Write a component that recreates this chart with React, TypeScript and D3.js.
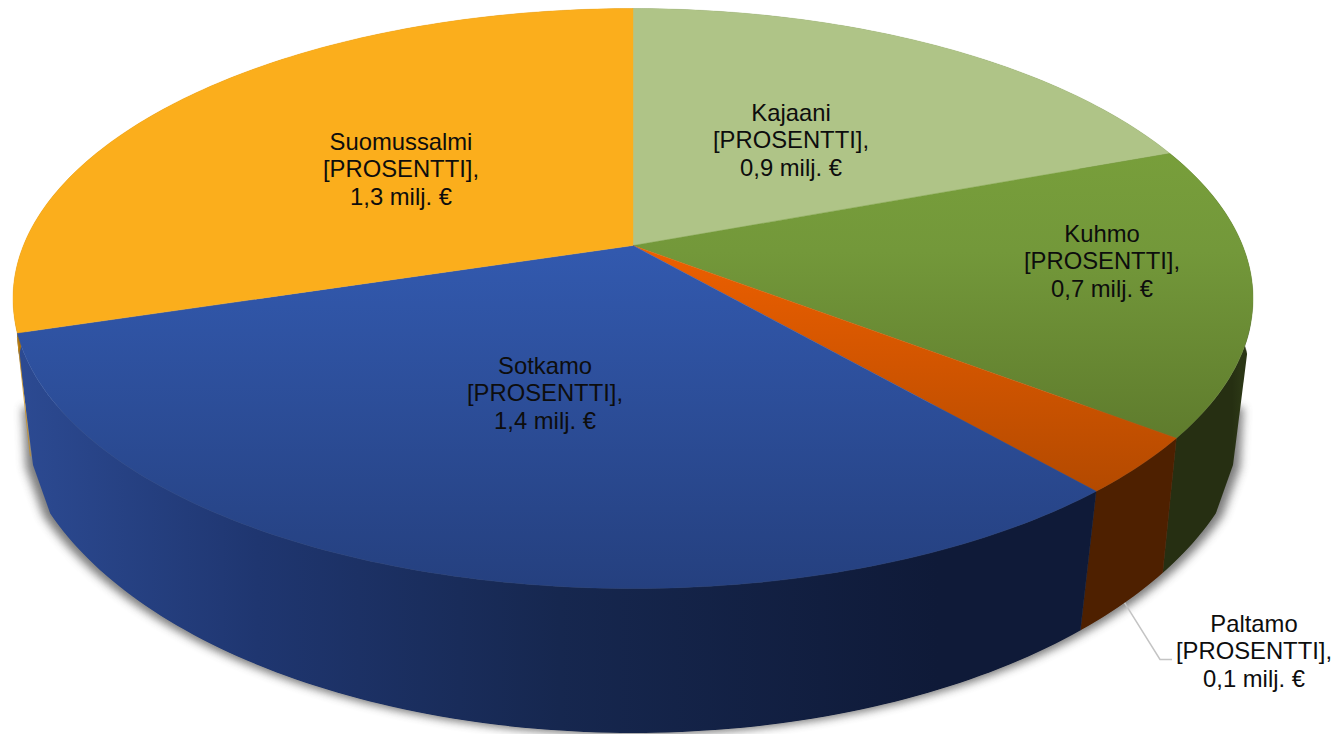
import React from "react";
import * as d3 from "d3";

// ---- data ----
const categories = ["Kajaani", "Kuhmo", "Paltamo", "Sotkamo", "Suomussalmi"];
const values = [0.85, 0.71, 0.14, 1.39, 1.31];
const amountLabels = ["0,9 milj. €", "0,7 milj. €", "0,1 milj. €", "1,4 milj. €", "1,3 milj. €"];
const percentText = "[PROSENTTI],";

// ---- styling ----
const topStops = [
  [["0", "#afc487"], ["1", "#afc487"]],
  [["0", "#7fa83c"], ["0.42", "#73983a"], ["0.74", "#5f7c2d"], ["1", "#4f6a25"]],
  [["0", "#ec5f00"], ["0.42", "#ec5f00"], ["0.83", "#b44a00"], ["1", "#9c3f00"]],
  [["0", "#3259ae"], ["0.42", "#3259ae"], ["1", "#25407f"]],
  [["0", "#fbae1c"], ["0.6", "#fbae1c"], ["1", "#f5a81b"]],
];
const wallStops = [
  [["0", "#5c6f3f"], ["1", "#5c6f3f"]],
  [["0", "#262f12"], ["0.9", "#262f12"], ["1", "#2b3615"]],
  [["0", "#4e2000"], ["1", "#4e2000"]],
  [["0", "#2c4a92"], ["0.22", "#1f3670"], ["0.5", "#16274f"], ["0.85", "#0f1a38"], ["1", "#0f1a38"]],
  [["0", "#a8700f"], ["1", "#a8700f"]],
];

// ---- projection of the two circles (perspective) ----
const topDisc = { cx: 633, cy: 245.5, rx: 609.6, ry: 280.3, k: -0.1827 };
const bottomDisc = { cx: 633, cy: 355.7, rx: 614.5, ry: 327.1, k: -0.133 };
const shoulder = { y: 465, halfWidth: 600 };
const shadowStart = { y: 405, halfWidth: 603 };
type Disc = typeof topDisc;
const project = (d: Disc, t: number): [number, number] => {
  const X = Math.sin(t);
  const Y = -Math.cos(t);
  const w = 1 + d.k * Y;
  return [d.cx + (d.rx * X) / w, d.cy + (d.ry * Y) / w];
};
const arcPoints = (d: Disc, a0: number, a1: number): [number, number][] => {
  const n = Math.max(2, Math.ceil(((a1 - a0) * 180) / Math.PI));
  return d3.range(n + 1).map((i) => project(d, a0 + ((a1 - a0) * i) / n));
};

const labelLayout = [
  { x: 791, y: 121 },
  { x: 1102, y: 242 },
  { x: 1254, y: 632 },
  { x: 545, y: 374 },
  { x: 401, y: 150 },
];
const lineGap = 27.4;

export default function App() {
  const arcs = d3.pie<number>().sort(null).startAngle(0).endAngle(2 * Math.PI)(values);
  const path = d3.line();
  const fullTop = arcPoints(topDisc, 0, 2 * Math.PI);
  const lowerBottom = arcPoints(bottomDisc, 0, 2 * Math.PI).filter((p) => p[1] >= 510);
  const shoulders: [number, number][] = [
    [bottomDisc.cx - shoulder.halfWidth, shoulder.y],
    [bottomDisc.cx + shoulder.halfWidth, shoulder.y],
  ];
  const outline = d3.polygonHull([...fullTop, ...lowerBottom, ...shoulders]) as [number, number][];
  const shadowShape = d3.polygonHull([
    ...lowerBottom,
    ...shoulders,
    [bottomDisc.cx - shadowStart.halfWidth, shadowStart.y],
    [bottomDisc.cx + shadowStart.halfWidth, shadowStart.y],
  ]) as [number, number][];

  // leader line starts on the wall's lower rim, in the middle of the Paltamo slice
  const palt = arcs[2];
  const leaderStart = project(bottomDisc, (palt.startAngle + palt.endAngle) / 2);
  const leaderY = labelLayout[2].y + lineGap;
  const leaderPath = path([
    leaderStart,
    [labelLayout[2].x - 94, leaderY],
    [labelLayout[2].x - 82, leaderY],
  ]);

  // hairline of the Suomussalmi wall showing at the far left edge
  const sotEnd = arcs[3].endAngle;
  const sliverTop = project(topDisc, sotEnd);
  const sliverBottom = project(bottomDisc, sotEnd);
  const sliverPath = path([
    [sliverTop[0], sliverTop[1] + 4],
    [sliverBottom[0] + 8.5, sliverBottom[1]],
  ]);

  return (
    <svg
      width={1334}
      height={734}
      viewBox="0 0 1334 734"
      style={{ position: "absolute", left: 0, top: 0, display: "block", background: "#fff" }}
    >
      <defs>
        {arcs.map((_, i) => (
          <linearGradient key={i} id={`top${i}`} gradientUnits="userSpaceOnUse" x1={0} x2={0} y1={8} y2={588}>
            {topStops[i].map(([o, c]) => (
              <stop key={o} offset={o} stopColor={c} />
            ))}
          </linearGradient>
        ))}
        {arcs.map((_, i) => (
          <linearGradient
            key={i}
            id={`wall${i}`}
            gradientUnits="userSpaceOnUse"
            x1={i === 1 ? 1160 : i === 3 ? 20 : 0}
            x2={i === 1 ? 1240 : i === 3 ? 1100 : 1334}
            y1={0}
            y2={0}
          >
            {wallStops[i].map(([o, c]) => (
              <stop key={o} offset={o} stopColor={c} />
            ))}
          </linearGradient>
        ))}
        <clipPath id="outline">
          <path d={path(outline) + "Z"} />
        </clipPath>
        <filter id="soft" x="-5%" y="-15%" width="110%" height="130%">
          <feGaussianBlur stdDeviation="4.5" />
        </filter>
      </defs>

      {/* soft shadow under the body */}
      <path
        d={path(shadowShape) + "Z"}
        fill="#444"
        opacity={0.7}
        filter="url(#soft)"
        transform="translate(633 400) scale(1.012 1) translate(-633 -398)"
      />

      {/* side walls */}
      <g clipPath="url(#outline)">
        {arcs.map((a, i) => {
          const poly = [
            ...arcPoints(topDisc, a.startAngle, a.endAngle),
            ...arcPoints(bottomDisc, a.startAngle, a.endAngle).reverse(),
          ] as [number, number][];
          return <path key={i} d={path(poly) + "Z"} fill={`url(#wall${i})`} stroke={`url(#wall${i})`} strokeWidth={0.4} />;
        })}
      </g>
      <path d={sliverPath as string} fill="none" stroke="#c98f1e" strokeWidth={0.8} />

      {/* top faces */}
      {arcs.map((a, i) => {
        const poly = [[topDisc.cx, topDisc.cy], ...arcPoints(topDisc, a.startAngle, a.endAngle)] as [number, number][];
        return <path key={i} d={path(poly) + "Z"} fill={`url(#top${i})`} stroke={`url(#top${i})`} strokeWidth={0.4} />;
      })}

      {/* leader line for Paltamo */}
      <path d={leaderPath as string} fill="none" stroke="#c4c4c4" strokeWidth={1.5} />

      {/* labels */}
      <g fontFamily="'Liberation Sans', Arial, sans-serif" fontSize={23.8} fill="#0d0d0d" textAnchor="middle">
        {categories.map((c, i) => (
          <text key={c} x={labelLayout[i].x} y={labelLayout[i].y}>
            <tspan x={labelLayout[i].x}>{c}</tspan>
            <tspan x={labelLayout[i].x} dy={lineGap}>{percentText}</tspan>
            <tspan x={labelLayout[i].x} dy={lineGap}>{amountLabels[i]}</tspan>
          </text>
        ))}
      </g>
    </svg>
  );
}
